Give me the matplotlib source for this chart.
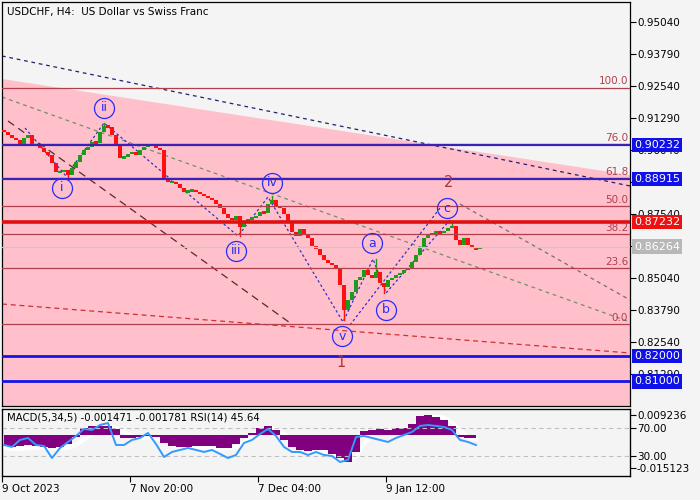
import matplotlib
matplotlib.use("Agg")
import matplotlib.pyplot as plt
import matplotlib.transforms as mtransforms
import numpy as np

plt.rcParams['font.family'] = ['DejaVu Sans']

# ---------------- data ----------------
title = "USDCHF, H4:  US Dollar vs Swiss Franc"
closes = [
    0.90743, 0.90626, 0.90509, 0.90431, 0.90235, 0.90509, 0.90626, 0.90235, 0.90235, 0.90118,
    0.89962, 0.89845, 0.89532, 0.89181, 0.89181, 0.89259, 0.89063, 0.89337, 0.89571, 0.89845,
    0.90040, 0.90157, 0.90352, 0.90313, 0.90743, 0.90977, 0.90938, 0.90626, 0.90235, 0.89727,
    0.89767, 0.89884, 0.89962, 0.89845, 0.90040, 0.90157, 0.90274, 0.90196, 0.90118, 0.90040,
    0.88868, 0.88790, 0.88790, 0.88712, 0.88556, 0.88399, 0.88438, 0.88477, 0.88399, 0.88321,
    0.88243, 0.88165, 0.88087, 0.87931, 0.87774, 0.87540, 0.87384, 0.87306, 0.87462, 0.87032,
    0.87227, 0.87345, 0.87384, 0.87462, 0.87618, 0.87579, 0.87931, 0.88087, 0.87852, 0.87774,
    0.87540, 0.87227, 0.86837, 0.86681, 0.86954, 0.86759, 0.86602, 0.86290, 0.86173, 0.85938,
    0.85743, 0.85626, 0.85548, 0.85431, 0.84767, 0.83790, 0.84181, 0.84493, 0.84962, 0.85079,
    0.85352, 0.85157, 0.85040, 0.85274, 0.84845, 0.84688, 0.84962, 0.85040, 0.85157, 0.85235,
    0.85352, 0.85431, 0.85665, 0.85938, 0.86251, 0.86602, 0.86720, 0.86798, 0.86837, 0.86798,
    0.86876, 0.86993, 0.87071, 0.86524, 0.86329, 0.86602, 0.86329, 0.86212, 0.86173, 0.86264,
]
first_open = 0.90820
wick_bars = [25, 16, 59, 67, 85, 93, 95, 112]
wick_prices = [0.91095, 0.88985, 0.86681, 0.88243, 0.83399, 0.85782, 0.84454, 0.87232]

price_ticks = [0.95040, 0.93790, 0.92540, 0.91290, 0.90040, 0.88790,
               0.87540, 0.86290, 0.85040, 0.83790, 0.82540, 0.81290]

# fibonacci retracement
fib_low, fib_high = 0.83243, 0.92481
fib_levels = [100.0, 76.0, 61.8, 50.0, 38.2, 23.6, 0.0]

# horizontal levels with price boxes
level_values = [0.90232, 0.88915, 0.87232, 0.82000, 0.81000]
level_colors = ['#3b22b4', '#3b22b4', '#e01010', '#1414e6', '#1414e6']
level_widths = [1.6, 1.6, 2.6, 2.0, 2.0]
box_colors = ['#1010e8', '#1010e8', '#f01010', '#1010e8', '#1010e8']
current_price = 0.86264

# pink channel (upper edge) and trend lines: (bar0, bar1), (price0, price1)
pink_bars = [-0.5, 156.5]
pink_top = [0.92813, 0.89063]
navy_line = ([-0.5, 156.5], [0.93712, 0.88634])
green_line = ([-0.5, 156.5], [0.92110, 0.83321])
dark_line = ([1.0, 72.25], [0.91173, 0.83204])
red_line = ([-0.5, 156.5], [0.84024, 0.82110])
grey_line = ([114.0, 156.5], [0.87931, 0.84181])
wave_path_bars = [5.25, 15.5, 25.0, 58.5, 66.0, 84.75, 92.25, 95.5, 111.5]
wave_path_prices = [0.90899, 0.89024, 0.91095, 0.86681, 0.88204, 0.83321, 0.85782, 0.84454, 0.87305]
channel_line = ([86.5, 109.0], [0.83204, 0.87774])

wave_labels = ['i', 'ii', 'iii', 'iv', 'v', 'a', 'b', 'c']
wave_bars = [14.5, 25.0, 58.0, 67.0, 84.5, 92.0, 95.5, 110.75]
wave_prices = [0.88556, 0.91681, 0.86095, 0.88751, 0.82774, 0.86407, 0.83790, 0.87774]
degree_labels = ['1', '2']
degree_bars = [84.25, 111.25]
degree_prices = [0.81720, 0.88751]

# indicators (every second bar)
ind_bars = list(range(0, 120, 2))
rsi = [45.7, 42.9, 52.9, 55.7, 45.7, 44.3, 27.1, 41.4, 50.0, 58.6,
       68.6, 67.1, 74.3, 77.1, 45.7, 45.7, 52.9, 55.7, 62.9, 47.1,
       28.6, 35.7, 38.6, 41.4, 38.6, 35.7, 38.6, 32.9, 27.1, 31.4,
       48.6, 52.9, 61.4, 68.6, 58.6, 42.9, 35.7, 35.7, 31.4, 35.7,
       31.4, 30.0, 21.4, 24.3, 57.1, 58.6, 55.7, 52.9, 50.0, 55.7,
       60.0, 64.3, 72.9, 74.3, 72.9, 71.4, 67.1, 52.9, 50.0, 45.64]
macd = [-0.00506, -0.00552, -0.00506, -0.00460, -0.00506, -0.00552, -0.00597, -0.00552, -0.00414, -0.00092,
        0.00322, 0.00414, 0.00414, 0.00414, 0.00276, -0.00138, -0.00138, -0.00092, -0.00046, -0.00092,
        -0.00368, -0.00506, -0.00552, -0.00552, -0.00506, -0.00506, -0.00506, -0.00597, -0.00597, -0.00414,
        -0.00138, 0.00092, 0.00322, 0.00414, 0.00230, -0.00230, -0.00552, -0.00689, -0.00735, -0.00689,
        -0.00689, -0.00873, -0.01057, -0.01241, -0.00781, 0.00184, 0.00230, 0.00276, 0.00230, 0.00322,
        0.00322, 0.00506, 0.00873, 0.00919, 0.00827, 0.00689, 0.00414, -0.00092, -0.00138, -0.00147]
signal = [-0.0060, -0.0062, -0.0063, -0.0060, -0.0058, -0.0058, -0.0060, -0.0061, -0.0058, -0.0045,
          -0.0020, 0.0005, 0.0025, 0.0035, 0.0035, 0.0015, -0.0005, -0.0012, -0.0012, -0.0012,
          -0.0025, -0.0040, -0.0052, -0.0058, -0.0058, -0.0057, -0.0056, -0.0060, -0.0062, -0.0055,
          -0.0035, -0.0010, 0.0015, 0.0030, 0.0028, 0.0005, -0.0030, -0.0055, -0.0070, -0.0075,
          -0.0075, -0.0082, -0.0095, -0.0110, -0.0100, -0.0040, 0.0000, 0.0015, 0.0020, 0.0025,
          0.0028, 0.0035, 0.0060, 0.0080, 0.0085, 0.0080, 0.0060, 0.0020, -0.0010, -0.0018]
indicator_text = "MACD(5,34,5) -0.001471 -0.001781 RSI(14) 45.64"
macd_ticks = [0.009236, -0.015123]
rsi_ticks = [70, 30]

date_ticks = [-0.5, 31.5, 63.5, 95.5]
date_labels = ['9 Oct 2023', '7 Nov 20:00', '7 Dec 04:00', '9 Jan 12:00']

# ---------------- styling ----------------
BG = '#f4f4f4'
PINK = '#ffc0cb'
FIB = '#b0404c'
WAVE = '#2a2aff'
FS = 7.5
MIN_BODY = 0.0008

fig = plt.figure(figsize=(7, 5), dpi=100, facecolor=BG)
ax = fig.add_axes([2/700, 1-406/500, 628/700, 404/500])
ax.set_facecolor(BG)
ax.set_xlim(-0.5, 156.5)
ax.set_ylim(0.80040, 0.95821)

# pink channel
ax.fill_between(pink_bars, pink_top, [0.70, 0.70], color=PINK, lw=0, zorder=0.5)

# trend lines
ax.plot(*navy_line, color='#202070', lw=0.9, ls=(0, (3, 3)), zorder=2)
ax.plot(*green_line, color='#6f8f70', lw=0.9, ls=(0, (3, 3)), zorder=2)
ax.plot(*dark_line, color='#5a2a2a', lw=0.9, ls=(0, (6, 4)), zorder=2)
ax.plot(*red_line, color='#d03030', lw=0.9, ls=(0, (4, 3)), zorder=2)
ax.plot(*grey_line, color='#707070', lw=0.9, ls=(0, (3, 3)), zorder=2)
ax.plot(wave_path_bars, wave_path_prices, color='#3030c0', lw=0.9, ls=(0, (2, 2)), zorder=2)
ax.plot(*channel_line, color='#3030c0', lw=0.9, ls=(0, (2, 2)), zorder=2)

# candles
idx = np.arange(len(closes))
opens = [first_open] + closes[:-1]
bottoms = [min(o, c) - (max(MIN_BODY - abs(c - o), 0) / 2) for o, c in zip(opens, closes)]
heights = [max(abs(c - o), MIN_BODY) for o, c in zip(opens, closes)]
cols = ['#1f9a1f' if c >= o else '#ff1010' for o, c in zip(opens, closes)]
ax.bar(idx, heights, bottom=bottoms, width=0.85, color=cols, lw=0, zorder=3)
for b, p in zip(wick_bars, wick_prices):
    o, c = opens[b], closes[b]
    edge = max(o, c) if p > max(o, c) else min(o, c)
    ax.plot([b, b], [edge, p], color='#ff1010' if c < o else '#1f9a1f', lw=1.0, zorder=3)

# fibonacci levels
btrans = mtransforms.blended_transform_factory(ax.transAxes, ax.transData)
for lv in fib_levels:
    val = fib_low + lv / 100.0 * (fib_high - fib_low)
    ax.axhline(val, color=FIB, lw=0.9, zorder=4)
    ax.text(0.997, val + 0.0004, f'{lv:.1f}', transform=btrans,
            ha='right', va='bottom', fontsize=FS, color=FIB, zorder=5)

# current price line
ax.axhline(current_price, color='#c8c8c8', lw=0.9, zorder=4)

# horizontal levels
for v, c, w in zip(level_values, level_colors, level_widths):
    ax.axhline(v, color=c, lw=w, zorder=4)

# wave labels
ax.plot(wave_bars, wave_prices, 'o', ms=14.4, mfc='none', mec=WAVE, mew=0.9, zorder=6)
for t, b, p in zip(wave_labels, wave_bars, wave_prices):
    ax.text(b, p, t, ha='center', va='center', fontsize=9, color=WAVE, zorder=7)
for t, b, p in zip(degree_labels, degree_bars, degree_prices):
    ax.text(b, p, t, ha='center', va='center', fontsize=10.5, color='#a83838', zorder=7)

# title
ax.text(5/628, 1-10/404, title, transform=ax.transAxes, ha='left', va='center', fontsize=FS, color='black', zorder=8)

# axis
ax.set_xticks([])
ax.yaxis.tick_right()
ax.set_yticks(price_ticks)
ax.set_yticklabels([f'{v:.5f}' for v in price_ticks])
ax.tick_params(axis='y', direction='out', length=4, width=0.8, labelsize=FS, pad=1, colors='black')
for s in ax.spines.values():
    s.set_color('black')
    s.set_linewidth(0.9)

# price boxes
for v, bc in zip(level_values, box_colors):
    ax.text(1.006, v, f'{v:.5f}', transform=btrans, ha='left', va='center', fontsize=8, color='white',
            bbox=dict(boxstyle='square,pad=0.2', fc=bc, ec='none'), zorder=10, clip_on=False)
ax.text(1.006, current_price, f'{current_price:.5f}', transform=btrans, ha='left', va='center', fontsize=8,
        color='white', bbox=dict(boxstyle='square,pad=0.2', fc='#b8b8b8', ec='none'), zorder=10, clip_on=False)

# ---------------- indicator panel ----------------
ax2 = fig.add_axes([2/700, 24/500, 628/700, 67/500])
ax2.set_facecolor(BG)
ax2.set_xlim(-0.5, 156.5)
ax2.set_ylim(-0.01880, 0.01199)
ax2.plot(ind_bars, signal, color='white', lw=3.0, zorder=1)
ax2.fill_between(ind_bars, 0, macd, step='mid', color='#800080', lw=0, zorder=2)
ax2.set_xticks(date_ticks)
ax2.set_xticklabels(date_labels)
for lbl in ax2.get_xticklabels():
    lbl.set_horizontalalignment('left')
ax2.tick_params(axis='x', direction='out', length=4, width=0.8, labelsize=FS, pad=2)
for s in ax2.spines.values():
    s.set_color('black')
    s.set_linewidth(0.9)

ax3 = ax2.twinx()
ax3.set_ylim(1.4, 97.1)
for lv in rsi_ticks:
    ax3.axhline(lv, color='#c0c0c0', lw=0.8, ls=(0, (4, 3)), zorder=1)
ax3.plot(ind_bars, rsi, color='#3399ff', lw=1.4, zorder=3)
ax3.set_yticks(rsi_ticks)
ax3.set_yticklabels([f'{v:.2f}' for v in rsi_ticks])
ax3.tick_params(axis='y', direction='out', length=4, width=0.8, labelsize=FS, pad=1)
ax3.text(5/628, 1-9/67, indicator_text, transform=ax3.transAxes, ha='left', va='center', fontsize=7.3, color='black')

# MACD scale labels on the right (set after twinx, which moves them left)
ax2.yaxis.tick_right()
ax2.set_yticks(macd_ticks)
ax2.set_yticklabels([f'{v:.6f}' for v in macd_ticks])
ax2.tick_params(axis='y', direction='out', length=4, width=0.8, labelsize=FS, pad=1)

fig.savefig('out.png', dpi=100, facecolor=BG)
